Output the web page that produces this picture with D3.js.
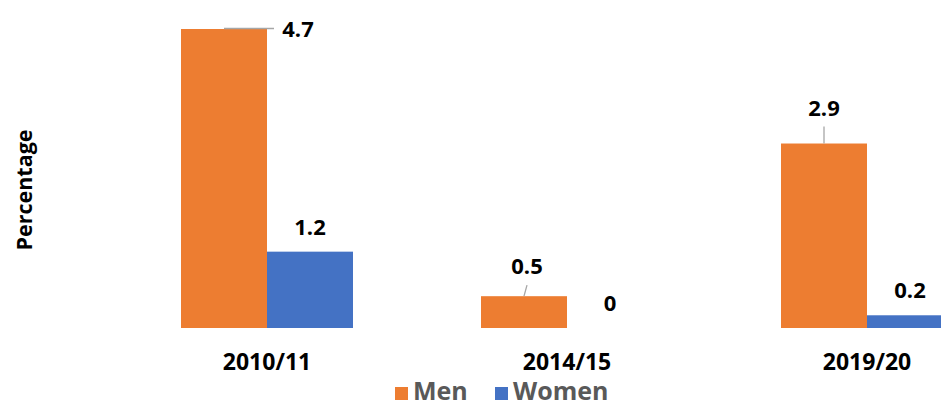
<!DOCTYPE html>
<html>
<head>
<meta charset="utf-8">
<script src="https://cdn.jsdelivr.net/npm/d3@7"></script>
<style>
  body { margin: 0; background: #fff; }
  svg { display: block; }
  text { font-family: "Open Sans", Lato, sans-serif; font-weight: bold; }
</style>
</head>
<body>
<div id="chart"></div>
<script>
// data
var years = ["2010/11", "2014/15", "2019/20"];
var series = ["Men", "Women"];
var men = [4.7, 0.5, 2.9];
var women = [1.2, 0, 0.2];
var colors = ["#ED7D31", "#4472C4"];

// labels that were dragged away from their bar, with a leader line
var moved = [
  {s: 0, i: 0, dx: 74, dy: 25, line: "h"},
  {s: 0, i: 1, dx: 3, dy: -5, line: "v"},
  {s: 0, i: 2, dx: 0, dy: -11, line: "v"}
];

var W = 941, H = 403;
var svg = d3.select("#chart").append("svg")
  .attr("width", W).attr("height", H);

// plot area runs off the right edge of the picture
var x = d3.scaleBand().domain(years).range([117, 1017]).padding(0);
var xs = d3.scaleBand().domain(series).range([64, x.bandwidth() - 64]);
var y = d3.scaleLinear().domain([0, 4.7]).range([328, 29]);

var rows = [];
years.forEach(function(yr, i) {
  rows.push({s: 0, i: i, year: yr, v: men[i]});
  rows.push({s: 1, i: i, year: yr, v: women[i]});
});

svg.append("g").selectAll("rect")
  .data(rows.filter(function(d) { return d.v > 0; }))
  .enter().append("rect")
  .attr("x", function(d) { return x(d.year) + xs(series[d.s]); })
  .attr("y", function(d) { return y(d.v); })
  .attr("width", xs.bandwidth())
  .attr("height", function(d) { return y(0) - y(d.v); })
  .attr("fill", function(d) { return colors[d.s]; });

// data labels
rows.forEach(function(d) {
  var cx = x(d.year) + xs(series[d.s]) + xs.bandwidth() / 2;
  var top = y(d.v);
  var lx = cx, ly = top - 17;
  var m = moved.find(function(o) { return o.s == d.s && o.i == d.i; });
  if (m) {
    lx += m.dx; ly += m.dy;
    if (m.line == "h") {
      svg.append("line")
        .attr("x1", cx).attr("y1", top - 0.5)
        .attr("x2", lx - 24).attr("y2", top - 0.5)
        .attr("stroke", "#A6A6A6").attr("stroke-width", 1.3);
    } else {
      svg.append("line")
        .attr("x1", cx).attr("y1", top)
        .attr("x2", lx).attr("y2", ly + 11)
        .attr("stroke", "#A6A6A6").attr("stroke-width", 1.3);
    }
  }
  svg.append("text")
    .attr("x", lx).attr("y", ly)
    .attr("text-anchor", "middle")
    .attr("font-size", 22)
    .attr("fill", "#000")
    .text(d.v);
});

// category axis labels
svg.append("g")
  .attr("transform", "translate(0,370)")
  .call(d3.axisBottom(x).tickSize(0).tickPadding(0))
  .call(function(g) { g.select(".domain").remove(); })
  .selectAll("text")
  .attr("dy", 0)
  .attr("font-size", 23)
  .attr("fill", "#000")
  .style("font-family", "'Open Sans', Lato, sans-serif")
  .style("font-weight", "bold");

// y axis title
svg.append("text")
  .attr("transform", "translate(32,190) rotate(-90)")
  .attr("text-anchor", "middle")
  .attr("font-size", 21.5)
  .attr("fill", "#000")
  .text("Percentage");

// legend
var legend = svg.append("g");
var lpos = [395, 495];
series.forEach(function(s, i) {
  legend.append("rect")
    .attr("x", lpos[i]).attr("y", 387)
    .attr("width", 13).attr("height", 13)
    .attr("fill", colors[i]);
  legend.append("text")
    .attr("x", lpos[i] + 18).attr("y", 400)
    .attr("font-size", 25)
    .attr("fill", "#595959")
    .text(s);
});
</script>
</body>
</html>
